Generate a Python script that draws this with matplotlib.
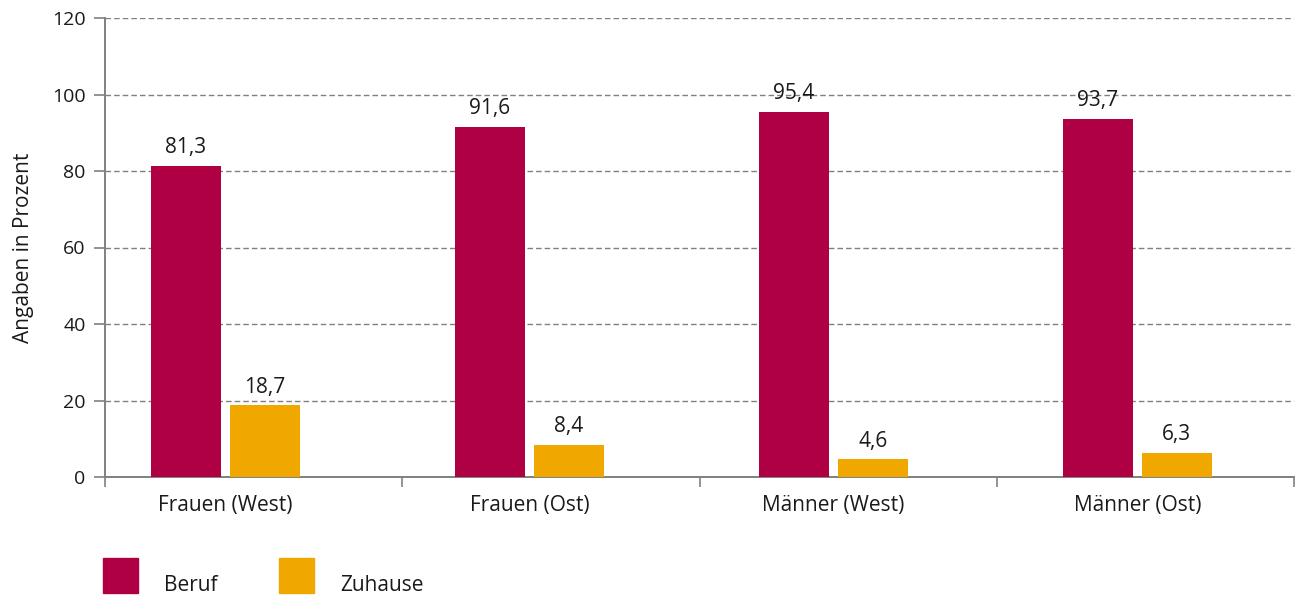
import matplotlib
matplotlib.use("Agg")
import matplotlib.pyplot as plt
from matplotlib.patches import Rectangle
import numpy as np

plt.rcParams['font.family'] = ['Open Sans', 'DejaVu Sans']

categories = ["Frauen (West)", "Frauen (Ost)", "Männer (West)", "Männer (Ost)"]
beruf = [81.3, 91.6, 95.4, 93.7]
zuhause = [18.7, 8.4, 4.6, 6.3]
series_names = ["Beruf", "Zuhause"]
y_ticks = [0, 20, 40, 60, 80, 100, 120]

col_beruf = "#B00044"
col_zuhause = "#F0A800"
text_col = "#1a1a1a"

W, H = 1295, 596
fig = plt.figure(figsize=(W / 100, H / 100), dpi=100)
ax = fig.add_axes([105 / W, (H - 477) / H, (1294 - 105) / W, (477 - 18) / H])

# group centres sit on a slightly wider pitch than the category ticks
group_pitch = 1.0227
centers = 0.405 + np.arange(len(categories)) * group_pitch
bw = 0.2355
off = 0.1329

bars_b = ax.bar(centers - off, beruf, width=bw, color=col_beruf, zorder=3)
bars_z = ax.bar(centers + off, zuhause, width=bw, color=col_zuhause, zorder=3)

def fmt(v):
    return f"{v:.1f}".replace(".", ",")

for bars, vals in ((bars_b, beruf), (bars_z, zuhause)):
    for rect, v in zip(bars, vals):
        ax.annotate(fmt(v), (rect.get_x() + rect.get_width() / 2, v),
                    xytext=(0, 9.2), textcoords="offset points",
                    ha="center", va="baseline", fontsize=15, color=text_col)

ax.set_xlim(0, len(categories))
ax.set_ylim(0, 120)
ax.set_yticks(y_ticks)
ax.set_yticklabels([str(t) for t in y_ticks], fontsize=14, color=text_col)
ax.set_xticks(np.arange(len(categories) + 1))
ax.set_xticklabels([])
ax.set_xticks(centers, minor=True)
ax.set_xticklabels(categories, minor=True, fontsize=15, color=text_col)
ax.tick_params(axis="x", which="minor", length=0, pad=13)
ax.tick_params(axis="x", which="major", length=7, width=1.2, color="#808080")
ax.tick_params(axis="y", length=8, width=1.2, color="#808080", pad=6)

ax.yaxis.grid(True, linestyle=(0, (4, 2.2)), color="#808080", linewidth=1.0, zorder=0)
ax.set_axisbelow(True)
for s in ("top", "right"):
    ax.spines[s].set_visible(False)
for s in ("left", "bottom"):
    ax.spines[s].set_color("#808080")
    ax.spines[s].set_linewidth(1.4)

ax.set_ylabel("Angaben in Prozent", fontsize=15, color=text_col)
ax.yaxis.set_label_coords(-0.0595, 0.5)

# legend drawn as figure-level swatches
for (x0, name, col, tx) in ((103, series_names[0], col_beruf, 164),
                            (279, series_names[1], col_zuhause, 340)):
    fig.patches.append(Rectangle((x0 / W, (H - 593) / H), 35 / W, 35 / H,
                                 transform=fig.transFigure, color=col))
    fig.text(tx / W, (H - 591) / H, name, fontsize=15, ha="left",
             va="baseline", color=text_col)

fig.savefig("out.png", dpi=100)
